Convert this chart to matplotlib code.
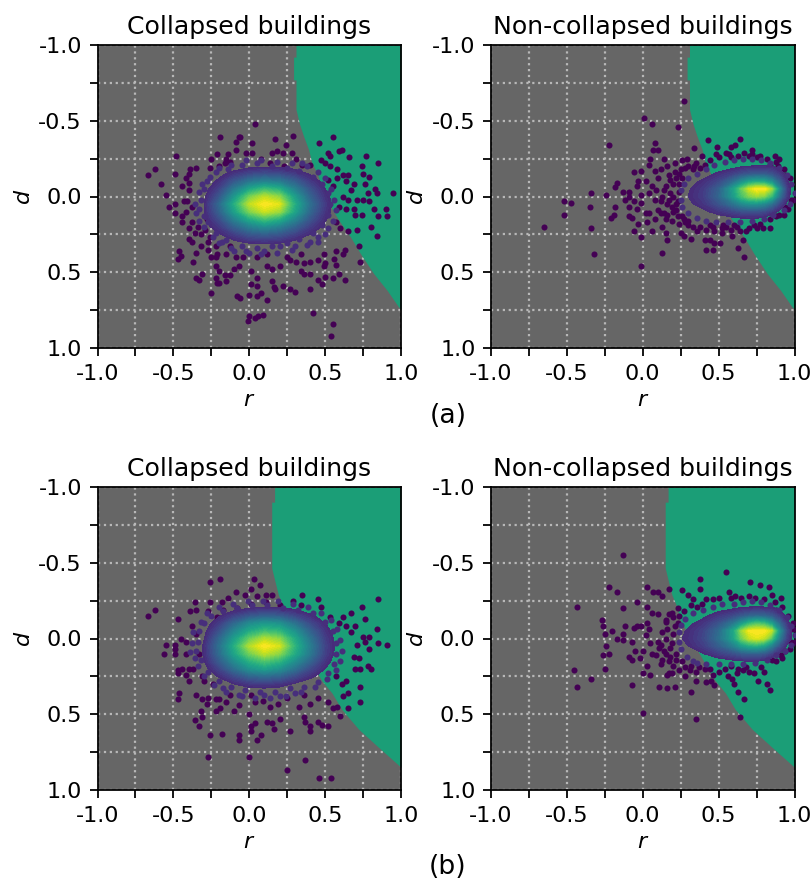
import matplotlib
matplotlib.use('Agg')
import matplotlib.pyplot as plt
import numpy as np

FIG_W, FIG_H, DPI = 812, 879, 160

# decision boundaries (d, r): right of r is the green class
bound_a_d = [-1.0, -0.92, -0.92, -0.77, -0.77, -0.575, -0.476, -0.398, -0.31, -0.221, -0.155, -0.066, 0.044, 0.155, 0.265, 0.376, 0.509, 0.619, 0.73, 0.745]
bound_a_r = [0.308, 0.308, 0.292, 0.292, 0.308, 0.308, 0.332, 0.358, 0.391, 0.413, 0.446, 0.479, 0.523, 0.589, 0.666, 0.732, 0.82, 0.908, 0.985, 1.0]
bound_b_d = [-1.0, -0.90, -0.90, -0.465, -0.387, -0.288, -0.21, -0.122, 0.055, 0.188, 0.28, 0.36, 0.47, 0.6, 0.72, 0.85]
bound_b_r = [0.167, 0.167, 0.148, 0.148, 0.167, 0.192, 0.225, 0.247, 0.347, 0.424, 0.479, 0.545, 0.611, 0.722, 0.854, 1.0]

dens_l_r = [-0.4, -0.3, -0.2, -0.1, 0.0, 0.1, 0.2, 0.3, 0.4, 0.5, 0.6]
dens_l_d = [-0.25, -0.2, -0.15, -0.1, -0.05, 0.0, 0.05, 0.1, 0.15, 0.2, 0.25, 0.3, 0.35]
dens_al = [
    [0, 0, 0, 0, 0, 0, 0, 0, 0, 0, 0],
    [0, 0, .02, .05, .08, .09, .09, .07, .04, 0, 0],
    [0, .03, .08, .15, .21, .24, .22, .17, .10, .05, 0],
    [0, .05, .13, .27, .38, .43, .40, .30, .17, .08, .01],
    [.01, .07, .19, .40, .58, .68, .62, .43, .25, .11, .02],
    [.02, .09, .26, .52, .78, .90, .82, .55, .31, .14, .03],
    [.02, .10, .33, .62, .90, 1.0, .95, .62, .36, .17, .03],
    [.02, .10, .30, .56, .80, .92, .85, .58, .33, .15, .03],
    [.01, .09, .23, .43, .60, .70, .62, .45, .26, .12, .02],
    [0, .07, .16, .30, .42, .48, .42, .31, .18, .09, .01],
    [0, .03, .10, .18, .26, .29, .26, .19, .11, .05, 0],
    [0, 0, .04, .09, .13, .14, .13, .09, .05, .02, 0],
    [0, 0, 0, 0, 0, 0, 0, 0, 0, 0, 0],
]
dens_bl = [
    [0, 0, 0, 0, 0, 0, 0, 0, 0, 0, 0],
    [0, 0, .03, .07, .11, .13, .12, .09, .05, .02, 0],
    [0, .03, .10, .19, .26, .30, .28, .21, .13, .07, .02],
    [.01, .06, .17, .33, .47, .53, .50, .37, .22, .11, .03],
    [.01, .08, .24, .45, .60, .68, .65, .50, .31, .15, .04],
    [.02, .10, .32, .55, .76, .88, .82, .60, .38, .18, .05],
    [.02, .12, .36, .62, .88, 1.0, .93, .65, .42, .20, .05],
    [.02, .12, .34, .58, .78, .90, .82, .61, .40, .19, .05],
    [.02, .10, .28, .47, .63, .72, .65, .49, .32, .15, .04],
    [.01, .07, .20, .36, .50, .56, .50, .37, .22, .11, .03],
    [0, .04, .12, .22, .31, .34, .31, .22, .13, .07, .01],
    [0, .01, .05, .11, .16, .17, .15, .10, .06, .03, 0],
    [0, 0, 0, .03, .05, .06, .05, .03, 0, 0, 0],
]
dens_r_r = [0.2, 0.3, 0.4, 0.5, 0.6, 0.65, 0.7, 0.75, 0.8, 0.85, 0.9, 0.95, 1.0]
dens_r_d = [-0.25, -0.2, -0.15, -0.1, -0.05, 0.0, 0.05, 0.1, 0.15, 0.2]
dens_ar = [
    [0, 0, 0, 0, 0, 0, 0, 0, 0, 0, 0, 0, 0],
    [0, 0, .01, .05, .08, .10, .11, .12, .12, .11, .09, .03, 0],
    [0, .02, .07, .13, .19, .23, .26, .27, .27, .24, .17, .08, 0],
    [.02, .07, .13, .21, .36, .47, .56, .60, .58, .48, .30, .13, .01],
    [.05, .10, .17, .30, .58, .76, .92, 1.0, 1.0, .85, .48, .18, .03],
    [.06, .11, .18, .32, .55, .70, .80, .84, .80, .66, .38, .16, .03],
    [.03, .09, .15, .25, .38, .46, .50, .50, .46, .36, .21, .09, 0],
    [.01, .05, .09, .15, .20, .23, .24, .24, .22, .16, .09, .03, 0],
    [0, 0, .02, .05, .08, .09, .09, .09, .07, .04, .01, 0, 0],
    [0, 0, 0, 0, 0, 0, 0, 0, 0, 0, 0, 0, 0],
]
dens_br = [
    [0, 0, 0, 0, 0, 0, 0, 0, 0, 0, 0, 0, 0],
    [0, 0, .02, .07, .10, .12, .13, .14, .13, .12, .10, .04, 0],
    [.01, .04, .09, .16, .22, .27, .31, .33, .32, .27, .18, .09, .01],
    [.04, .09, .15, .25, .40, .53, .65, .72, .68, .55, .34, .15, .02],
    [.07, .12, .20, .34, .60, .84, .98, 1.0, 1.0, .90, .52, .21, .05],
    [.08, .13, .21, .36, .58, .78, .90, .95, .90, .72, .42, .18, .05],
    [.05, .11, .18, .29, .43, .54, .60, .62, .56, .42, .24, .10, .01],
    [.02, .06, .11, .18, .24, .28, .30, .30, .27, .19, .11, .03, 0],
    [0, .01, .03, .06, .09, .10, .11, .11, .09, .05, .02, 0, 0],
    [0, 0, 0, 0, 0, 0, 0, 0, 0, 0, 0, 0, 0],
]

# sparse buildings, (r, d)
pts_al = [(-.67,-.14),(-.62,-.18),(-.58,-.08),(-.55,-.01),(-.53,.07),(-.49,-.15),(-.48,-.27),(-.49,.05),(-.49,.11),(-.42,-.12),(-.40,-.15),(-.39,-.18),(-.35,-.19),(-.44,-.07),(-.40,-.09),(-.40,-.04),(-.43,.03),(-.41,.03),(-.44,.13),(-.42,.10),(-.38,.07),(-.44,.17),(-.38,.17),(-.40,.21),(-.34,.20),(-.36,.24),(-.40,.28),(-.38,.30),(-.32,.25),(-.29,.22),(-.46,.36),(-.45,.39),(-.47,.41),(-.35,.37),(-.37,.43),(-.32,.33),(-.27,.35),(-.25,.40),(-.35,.54),(-.33,.55),(-.31,.51),(-.25,.64),(-.22,.40),(-.22,.46),(-.20,.49),(-.22,.54),(-.21,.57),(-.20,.57),(-.16,.52),(-.15,.56),(-.13,.52),(-.10,.48),(-.07,.46),(-.08,.66),(-.06,.67),(0,.65),(.01,.58),(.05,.59),(.05,.54),(.08,.64),(.05,.66),(.12,.68),(0,.79),(-.01,.82),(.04,.80),(.06,.79),(.09,.78),(.15,.56),(.16,.60),(.17,.61),(.22,.59),(.27,.61),(.30,.63),(.40,.61),(.48,.58),(.45,.55),(.50,.53),(.55,.54),(.59,.51),(.63,.55),(.57,.36),(.62,.38),(.63,.35),(.73,.43),(.42,.77),(.55,.84),(.54,.92),(.72,.33),(.84,.26),(.80,.20),(.71,.22),(.65,.23),(.60,.21),(.57,.17),(.91,.13),(.90,.08),(.85,.13),(.82,.08),(.95,-.02),(.84,-.02),(.83,-.05),(.78,-.02),(.75,.02),(.79,.03),(.70,.12),(.74,.12),(.69,.08),(.64,.08),(.59,.07),(.79,-.13),(.75,-.15),(.74,-.20),(.85,-.22),(.77,-.27),(.66,-.26),(.61,-.31),(.59,-.30),(.52,-.29),(.53,-.27),(.46,-.35),(.55,-.39),(.47,-.24),(.50,-.22),(.53,-.20),(.58,-.18),(.62,-.14),(.65,-.14),(.58,-.12),(.64,-.10),(.69,-.08),(.67,-.04),(.62,0),(.65,.02),(.71,.02),(.76,-.08),(.55,-.07),(.52,-.11),(.04,-.48),(-.19,-.39),(-.07,-.39),(-.06,-.39),(-.09,-.36),(-.09,-.31),(-.14,-.28),(-.15,-.25),(-.21,-.28),(-.25,-.25),(-.26,-.19),(-.16,-.22),(-.20,-.20),(-.13,-.23),(-.02,-.29),(.02,-.29),(.02,-.35),(.17,-.38),(.24,-.34),(.29,-.40),(.18,-.30),(.15,-.29),(.22,-.29),(.28,-.29),(.31,-.25),(.08,-.25),(.14,-.22),(.23,-.20),(.35,-.21),(.40,-.21),(.27,.42),(.31,.43),(.36,.44),(.40,.43),(.45,.42),(.50,.44),(.57,.45),(.56,.41),(.49,.38),(.36,.51),(.40,.51),(.49,.46),(.34,.49),(.20,.46),(.15,.48),(.12,.46),(.01,.49),(-.04,.40),(-.09,.40),(.05,.40),(.12,.38),(.25,.40),(.34,.38),(-.22,.33),(-.27,.30),(-.28,.15),(-.26,.27),(-.21,.38),(-.15,.38),(-.13,.33)]
ring_al = [(-.30,-.05),(-.32,.02),(-.33,.08),(-.30,.13),(-.28,-.10),(-.22,-.16),(-.14,-.18),(-.05,-.21),(.05,-.22),(.15,-.20),(.25,-.19),(.33,-.17),(.42,-.13),(.48,-.08),(.52,-.02),(.53,.05),(.52,.12),(.48,.19),(.42,.24),(.33,.28),(.25,.31),(.15,.33),(.05,.34),(-.05,.33),(-.15,.29),(-.22,.24),(-.27,.17),(0,.37),(.1,.36),(.2,.33),(.3,.33),(.4,.30),(-.1,.36),(-.2,.31),(.45,.3),(.5,.25),(.35,-.22),
           (-.33,-.03),(-.36,.05),(-.35,.11),(-.33,.16),(-.3,.2),(-.31,-.08),(-.26,-.13),(-.2,-.19),(-.12,-.21),(-.02,-.24),(.08,-.24),(.18,-.23),(.28,-.22),(.38,-.2),(.45,-.16),(.5,-.12),(.54,-.05),(.56,.02),(.57,.09),(.55,.16),(.52,.21),(.45,.27),(.38,.32),(.28,.35),(.18,.37),(.08,.38),(-.02,.36),(-.12,.34),(-.18,.3),(-.24,.27)]

pts_ar = [(-.65,.20),(-.52,.03),(-.47,.04),(-.52,.12),(-.35,.07),(-.34,-.02),(-.34,.21),(-.32,.38),(-.24,-.01),(-.22,-.34),(-.17,-.09),(-.18,-.06),(-.13,-.03),(-.18,.07),(-.19,.12),(-.21,.14),(-.12,.02),(-.09,-.03),(-.09,0),(-.06,.03),(-.09,.07),(-.04,.08),(-.09,.13),(-.07,.14),(-.03,.18),(-.06,.23),(-.01,.27),(-.01,.46),(.13,.37),(.16,.29),(.06,.23),(.15,.24),(.13,.20),(.08,.15),(.03,.17),(.02,.11),(-.01,.04),(-.01,-.01),(-.04,-.07),(-.06,-.16),(-.01,-.17),(-.03,-.10),(.02,-.10),(.04,-.21),(.05,-.25),(.01,-.52),(.06,-.48),(.23,-.46),(.27,-.63),(.34,-.32),(.08,-.35),(.07,-.31),(.10,-.31),(.14,-.25),(.16,-.20),(.08,-.17),(.10,-.12),(.21,-.22),(.26,-.24),(.29,-.25),(.39,-.27),(.43,-.37),(.49,-.33),(.48,-.28),(.35,-.22),(.41,-.21),(.24,-.15),(.18,-.11),(.15,-.07),(.09,-.04),(.06,-.07),(.04,-.02),(.08,.02),(.13,0),(.17,.02),(.10,.09),(.04,.11),(.16,.12),(.19,.07),(.24,.18),(.28,.17),(.25,.24),(.27,.26),(.32,.28),(.36,.23),(.41,.29),(.44,.29),(.42,.35),(.46,.35),(.47,.31),(.51,.31),(.52,.21),(.58,.22),(.59,.26),(.66,.29),(.63,.34),(.67,.40),(.64,.23),(.70,.21),(.75,.21),(.84,.21),(.79,.21),(.73,.19),(.88,.13),(.93,.12),(.94,.07),(.98,.02),(.58,-.33),(.64,-.38),(.61,-.34),(.55,-.29),(.57,-.28),(.67,-.29),(.72,-.31),(.72,-.28),(.77,-.27),(.87,-.27),(.90,-.25),(.89,-.20),(.84,-.21),(.94,-.14),(.22,-.12),(.20,-.08),(.18,-.02),(.22,.05),(.20,.10),(.26,.13),(.30,.16),(.33,-.18),(.28,-.19),(.24,-.08),
          (.12,-.18),(.17,-.14),(.21,-.16),(.25,-.18),(.3,-.2),(.34,-.2),(.38,-.19),(.14,-.04),(.12,.03),(.16,.05),(.2,0),(.23,.03),(.12,.11),(.15,.15),(.19,.16),(.23,.13),(.27,.15),(.3,.19),(.33,.2),(.38,.2),(.42,.22),(.47,.23),(.44,.19),(.52,.24),(.55,.2),(.62,.2),(.68,.23),(.26,-.12),(.24,-.03),(.22,.09),(.14,.11),(.44,-.24),(.5,-.26),(.58,-.26),(.63,-.27),(.7,-.27),(.75,-.26),(.82,-.25),(.88,-.23),(.93,-.18),(.97,-.12),(.99,.02),(.96,.08),(.9,.12),(.84,.15),(.77,.18),(.6,.19),(.53,.19),(.46,.2)]
ring_ar = [(.30,-.12),(.27,-.08),(.25,-.04),(.25,.02),(.26,.07),(.30,.11),(.36,.14),(.36,-.15),(.42,-.18),(.47,-.21),(.54,-.23),(.60,-.24),(.66,-.25),(.72,-.25),(.78,-.24),(.84,-.22),(.90,-.19),(.95,-.14),(.98,-.08),(1.0,-.02),(.97,.05),(.93,.09),(.86,.12),(.80,.15),(.72,.16),(.64,.17),(.56,.17),(.48,.17),(.42,.16)]

pts_bl = [(-.67,-.15),(-.62,-.19),(-.55,.04),(-.56,.10),(-.47,-.13),(-.49,.04),(-.49,.07),(-.49,.10),(-.45,0),(-.42,.02),(-.42,.10),(-.47,.21),(-.47,.23),(-.44,.20),(-.40,.20),(-.42,.24),(-.40,.28),(-.46,.36),(-.47,.40),(-.35,.37),(-.36,.54),(-.31,.52),(-.33,.58),(-.32,.48),(-.31,.40),(-.27,.39),(-.28,.43),(-.26,.64),(-.27,.78),(-.18,.63),(-.07,.64),(-.07,.67),(0,.78),(.05,.67),(.08,.64),(.01,.58),(.04,.56),(.01,.61),(.12,.55),(.16,.60),(.15,.56),(.27,.61),(.20,.53),(.36,.52),(.37,.55),(.40,.58),(.40,.61),(.45,.55),(.48,.57),(.52,.58),(.25,.87),(.37,.80),(.46,.92),(.54,.92),(.60,.51),(.65,.46),(.58,.45),(.55,.46),(.52,.42),(.62,.38),(.65,.36),(.73,.42),(.73,.32),(.64,.28),(.61,.30),(.57,.25),(.78,.18),(.80,.20),(.70,.20),(.73,.20),(.72,.13),(.69,.12),(.91,.04),(.85,.03),(.79,.07),(.79,-.01),(.75,-.01),(.76,.02),(.71,.04),(.84,-.06),(.76,-.13),(.67,-.17),(.74,-.21),(.85,-.26),(.62,-.14),(.70,-.08),(.67,-.04),(.59,-.10),(.64,-.08),(.53,-.14),(.47,-.21),(.45,-.26),(.35,-.29),(.34,-.22),(.29,-.25),(.15,-.29),(.11,-.29),(.05,-.28),(.07,-.35),(.03,-.39),(.01,-.33),(-.03,-.29),(-.09,-.31),(-.19,-.39),(-.26,-.37),(-.14,-.27),(-.18,-.24),(-.26,-.24),(-.36,-.24),(-.39,-.18),(-.35,-.19),(-.27,-.18),(-.21,-.14),(-.38,-.08),(-.35,-.03),(.20,-.22),(.11,-.24),(.01,-.23),(-.08,-.20),(-.17,-.19),(-.22,.40),(-.20,.40),(-.22,.48),(-.19,.46),(-.15,.42),(-.10,.48),(-.07,.44),(0,.50),(.04,.42),(.09,.41),(.14,.45),(.19,.43),(.25,.39),(.33,.45),(.40,.43),(.45,.39),(.36,.37),(-.24,.30),(-.31,.25),(-.37,.20),(-.33,.10),(-.30,.28),(-.13,.37),(.01,.37)]
ring_bl = [(-.33,-.05),(-.34,.02),(-.35,.08),(-.32,.14),(-.30,-.10),(-.25,-.15),(-.17,-.18),(-.08,-.2),(.02,-.22),(.12,-.22),(.22,-.2),(.32,-.19),(.42,-.17),(.5,-.11),(.55,-.05),(.57,.03),(.57,.1),(.56,.17),(.52,.23),(.45,.29),(.36,.32),(.27,.33),(.17,.35),(.07,.35),(-.03,.34),(-.12,.32),(-.2,.28),(-.27,.22),(.1,.37),(.2,.38),(.3,.36),(-.05,.38),(-.17,.33),
           (-.37,-.04),(-.38,.03),(-.39,.09),(-.36,.13),(-.34,.18),(-.32,-.11),(-.28,-.17),(-.2,-.21),(-.11,-.23),(-.01,-.25),(.09,-.25),(.19,-.25),(.29,-.23),(.39,-.21),(.47,-.17),(.54,-.12),(.58,-.06),(.6,.01),(.61,.08),(.6,.15),(.57,.21),(.51,.27),(.43,.32),(.34,.35),(.24,.38),(.14,.39),(.04,.39),(-.07,.37),(-.15,.35),(-.23,.31),(-.3,.25)]

pts_br = [(-.13,-.55),(-.43,-.21),(-.22,-.34),(-.17,-.31),(-.13,-.20),(-.27,-.12),(-.26,-.08),(-.25,-.03),(-.20,-.05),(-.17,0),(-.13,-.03),(-.12,-.08),(-.13,.01),(-.24,.05),(-.22,.10),(-.26,.11),(-.25,.20),(-.45,.21),(-.43,.32),(-.34,.27),(-.07,.31),(0,.49),(.35,.53),(.64,.52),(.67,.40),(.63,.35),(.32,.35),(.11,.32),(.16,.33),(.21,.32),(0,.23),(.05,.24),(-.07,.14),(-.09,.12),(-.02,.13),(-.05,.08),(-.07,.02),(-.06,-.07),(-.04,-.08),(-.01,-.08),(.03,-.10),(.04,-.06),(.02,-.02),(.05,.03),(0,.08),(.06,.10),(.09,.11),(.03,.18),(.12,.17),(.17,.15),(.17,.23),(.19,.23),(.16,.24),(.28,.25),(.35,.28),(.31,.21),(.35,.22),(.26,.15),(.42,.29),(.45,.28),(.47,.31),(.41,.20),(.50,.22),(.59,.27),(.60,.30),(.58,.18),(.63,.20),(.68,.19),(.73,.23),(.76,.28),(.82,.30),(.84,.34),(.78,.19),(.88,.15),(.92,.13),(.86,.09),(.94,.08),(.98,.02),(.99,-.06),(.03,-.34),(.07,-.31),(.10,-.31),(.17,-.33),(.13,-.28),(-.04,-.24),(.03,-.21),(.06,-.17),(.10,-.16),(.17,-.16),(.15,-.11),(.24,-.15),(.26,-.32),(.30,-.29),(.33,-.26),(.38,-.39),(.38,-.33),(.55,-.44),(.71,-.37),(.77,-.35),(.83,-.34),(.85,-.29),(.91,-.27),(.57,-.31),(.61,-.28),(.74,-.27),(.46,-.26),(.39,-.23),(.88,-.19),(.94,-.12),(.15,0),(.12,.04),(.18,.06),(.20,-.03),(.16,-.06),(.22,.10),(.14,.08),(.18,.12),(.21,-.08),
          (.15,-.12),(.19,-.17),(.23,-.2),(.27,-.18),(.32,-.22),(.36,-.21),(.13,-.04),(.1,.02),(.11,.06),(.15,.1),(.19,.03),(.22,.14),(.13,.14),(.2,.18),(.24,.21),(.28,.19),(.32,.18),(.37,.19),(.44,.2),(.46,.24),(.54,.2),(.56,.25),(.62,.23),(.66,.21),(.7,.22),(.8,.22),(.23,-.1),(.2,-.14),(.42,-.26),(.5,-.27),(.58,-.27),(.65,-.27),(.7,-.28),(.8,-.26),(.87,-.24),(.92,-.21),(.96,-.15),(.99,-.1),(1.0,.02),(.97,.07),(.91,.11),(.85,.14)]
ring_br = [(.28,-.13),(.25,-.09),(.24,-.04),(.24,.02),(.25,.07),(.29,.12),(.33,.15),(.33,-.17),(.4,-.19),(.46,-.21),(.52,-.23),(.6,-.23),(.66,-.24),(.72,-.25),(.78,-.24),(.84,-.22),(.9,-.19),(.95,-.14),(.98,-.08),(1.0,-.02),(.98,.04),(.94,.08),(.88,.11),(.82,.14),(.74,.16),(.66,.17),(.58,.17),(.5,.17),(.42,.17),(.36,.16)]

ticks = [-1.0, -0.75, -0.5, -0.25, 0.0, 0.25, 0.5, 0.75, 1.0]
tick_labels = ['-1.0', '', '-0.5', '', '0.0', '', '0.5', '', '1.0']
titles = ['Collapsed buildings', 'Non-collapsed buildings']

dark2 = plt.get_cmap('Dark2')
GREEN, GRAY = dark2(0), dark2(7)
viridis = plt.get_cmap('viridis')


def panel(x0, y0, w, h, title, bd, br, gr, gd, dens, pts, ring):
    ax = fig.add_axes([x0 / FIG_W, 1 - (y0 + h) / FIG_H, w / FIG_W, h / FIG_H])
    ax.set_facecolor(GRAY)
    ax.fill_betweenx(bd, br, 1.0, color=GREEN, lw=0, zorder=1)
    ax.set_xlim(-1, 1)
    ax.set_ylim(1, -1)
    ax.grid(True, color='#b8b8b8', ls=':', lw=1.0, zorder=2)
    ax.set_axisbelow(True)
    ax.set_xticks(ticks)
    ax.set_xticklabels(tick_labels)
    ax.set_yticks(ticks)
    ax.set_yticklabels(tick_labels)
    pr, pd_ = zip(*pts)
    ax.scatter(pr, pd_, s=7.5, c=[viridis(0.0)], linewidths=0, zorder=3)
    ax.contourf(gr, gd, dens, levels=np.linspace(0.11, 1.0, 40), cmap='viridis',
                vmin=0, vmax=1, zorder=4)
    rr, rd = zip(*ring)
    ax.scatter(rr, rd, s=7.5, c=[viridis(0.13)], linewidths=0, zorder=5)
    ax.set_title(title, pad=5, fontsize=11.3)
    ax.set_xlabel('$r$', labelpad=3)
    ax.set_ylabel('$d$', labelpad=2)
    return ax


fig = plt.figure(figsize=(FIG_W / DPI, FIG_H / DPI), dpi=DPI)
panel(97.5, 45, 303.5, 303, titles[0], bound_a_d, bound_a_r, dens_l_r, dens_l_d, dens_al, pts_al, ring_al)
panel(491, 45, 303.5, 303, titles[1], bound_a_d, bound_a_r, dens_r_r, dens_r_d, dens_ar, pts_ar, ring_ar)
panel(97.5, 487, 303.5, 303, titles[0], bound_b_d, bound_b_r, dens_l_r, dens_l_d, dens_bl, pts_bl, ring_bl)
panel(491, 487, 303.5, 303, titles[1], bound_b_d, bound_b_r, dens_r_r, dens_r_d, dens_br, pts_br, ring_br)
fig.text(448 / FIG_W, 1 - 416 / FIG_H, '(a)', ha='center', va='center', fontsize=12)
fig.text(448 / FIG_W, 1 - 867 / FIG_H, '(b)', ha='center', va='center', fontsize=12)
fig.savefig('out.png', dpi=DPI)
